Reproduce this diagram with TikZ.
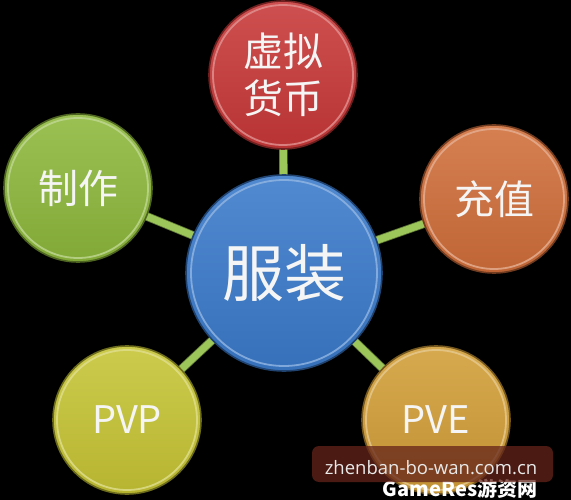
\documentclass[tikz,border=0pt]{standalone}
\usepackage{fontspec}
\newfontfamily\cjk{Noto Sans CJK SC}
\newfontfamily\wmfont{Open Sans}
\pgfdeclarelayer{bg}
\pgfdeclarelayer{lines}
\pgfsetlayers{bg,lines,main}
\definecolor{cblue}{RGB}{58,122,202}
\definecolor{cred}{RGB}{200,56,56}
\definecolor{cgreen}{RGB}{141,184,60}
\definecolor{corange}{RGB}{208,110,58}
\definecolor{cyellow}{RGB}{198,196,52}
\definecolor{cgold}{RGB}{210,158,55}
\definecolor{conn}{RGB}{156,197,90}
\definecolor{txt}{RGB}{245,245,245}
\definecolor{wmbox}{RGB}{100,36,26}
\tikzset{
  ball/.style={circle, inner sep=0pt, draw=#1!55!black, line width=1.6pt,
    top color=#1!88!white, bottom color=#1!92!black, text=txt, font=\cjk},
  bigball/.style={ball=#1, minimum size=196pt},
  smallball/.style={ball=#1, minimum size=148pt},
  connector/.style={draw=conn!60!black, line width=0.8pt, double=conn, double distance=7pt,
    shorten <=-4pt, shorten >=-4pt},
  rim/.style={draw=#1!55!white, line width=1.8pt, opacity=0.8}
}
\begin{document}
\begin{tikzpicture}[x=1pt,y=-1pt]
\begin{pgfonlayer}{bg}
\fill[black] (0,0) rectangle (571,500);
\end{pgfonlayer}
\useasboundingbox (0,0) rectangle (571,500);
\node[bigball=cblue, font=\cjk\fontsize{62}{66}\selectfont] (c) at (284,273) {服装};
\node[smallball=cred, align=center, font=\cjk\fontsize{40}{47}\selectfont] (t) at (283,75) {虚拟\\货币};
\node[smallball=cgreen, font=\cjk\fontsize{40}{46}\selectfont] (l) at (78,188) {制作};
\node[smallball=corange, font=\cjk\fontsize{40}{46}\selectfont] (r) at (494,199) {充值};
\node[smallball=cyellow, font=\cjk\fontsize{38}{44}\selectfont] (bl) at (127,420) {PVP};
\node[smallball=cgold, font=\cjk\fontsize{38}{44}\selectfont] (br) at (436,420) {PVE};
\foreach \n/\col/\rr in {c/cblue/93, t/cred/70, l/cgreen/70, r/corange/70, bl/cyellow/70, br/cgold/70}
  \draw[rim=\col] (\n.center) circle (\rr pt);
\begin{pgfonlayer}{lines}
\foreach \n in {t,l,r,bl,br}
  \draw[connector] (c) -- (\n);
\end{pgfonlayer}
\node[text=white, inner sep=0pt, font=\cjk\bfseries\fontsize{20}{21}\selectfont] (gr) at (460,489) {GameRes游资网};
\fill[wmbox, opacity=0.75, rounded corners=7pt] (312,446) rectangle (553,482);
\node[text=txt!90!gray, inner sep=0pt, font=\wmfont\fontsize{18.5}{20}\selectfont] (wm) at (431,468) {zhenban-bo-wan.com.cn};
\end{tikzpicture}
\end{document}
